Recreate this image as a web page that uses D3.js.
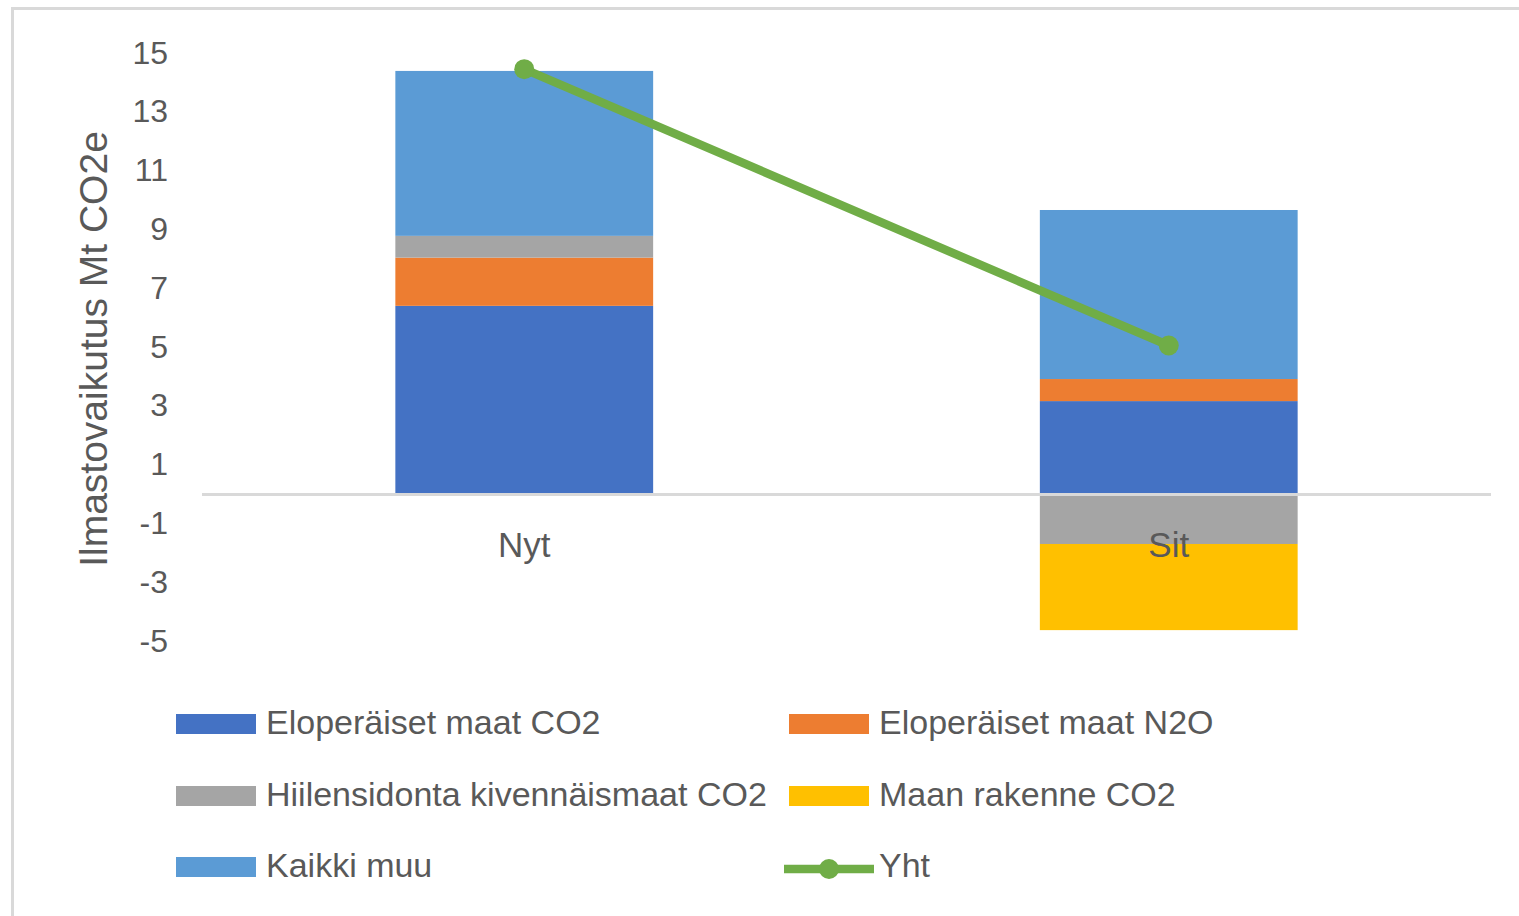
<!DOCTYPE html>
<html><head><meta charset="utf-8">
<script src="https://cdn.jsdelivr.net/npm/d3@7"></script>
<style>
body{margin:0;background:#fff}
svg{display:block}
text{font-family:"Liberation Sans",Arial,sans-serif;fill:#595959}
</style>
</head><body>
<svg id="c" width="1519" height="916"></svg>
<script>
// ---- data ----
const categories = ["Nyt", "Sit"];
const eloperaisetCO2 = [6.40, 3.16];
const eloperaisetN2O = [1.64, 0.75];
const hiilensidonta = [0.74, -1.70];
const maanRakenne = [0, -2.93];
const kaikkiMuu = [5.61, 5.75];
const yht = [14.45, 5.05];
const yTicks = [-5, -3, -1, 1, 3, 5, 7, 9, 11, 13, 15];
const seriesNames = ["Eloperäiset maat CO2", "Eloperäiset maat N2O", "Hiilensidonta kivennäismaat CO2", "Maan rakenne CO2", "Kaikki muu"];
const lineName = "Yht";
const yTitle = "Ilmastovaikutus Mt CO2e";
const colors = ["#4472C4", "#ED7D31", "#A5A5A5", "#FFC000", "#5B9BD5"];
const lineColor = "#70AD47";

const seriesValues = [eloperaisetCO2, eloperaisetN2O, hiilensidonta, maanRakenne, kaikkiMuu];
const table = categories.map((c, i) => {
  const row = {cat: c};
  seriesNames.forEach((s, k) => row[s] = seriesValues[k][i]);
  return row;
});

const svg = d3.select("#c");

// frame
svg.append("path").attr("d", "M12.5,916V8.5H1519")
  .attr("fill", "none").attr("stroke", "#d9d9d9").attr("stroke-width", 3);

const x = d3.scaleBand().domain(categories).range([202, 1491]).paddingInner(0.6).paddingOuter(0.3);
const y = d3.scaleLinear().domain([-5, 15]).range([641, 53]);

const stack = d3.stack().keys(seriesNames).offset(d3.stackOffsetDiverging);
const stacked = stack(table);

// bars
svg.append("g").selectAll("g").data(stacked).join("g")
  .attr("fill", (d, i) => colors[i])
  .selectAll("rect").data(d => d).join("rect")
  .attr("x", d => x(d.data.cat))
  .attr("width", x.bandwidth())
  .attr("y", d => y(Math.max(d[0], d[1])))
  .attr("height", d => Math.abs(y(d[0]) - y(d[1])));

// zero line
svg.append("line").attr("x1", 202).attr("x2", 1491)
  .attr("y1", y(0) + 0.5).attr("y2", y(0) + 0.5)
  .attr("stroke", "#d9d9d9").attr("stroke-width", 3);

// y axis labels
const yAxis = d3.axisLeft(y).tickValues(yTicks).tickSize(0).tickPadding(0).tickFormat(d => String(d));
const gy = svg.append("g").attr("transform", "translate(168,0)").call(yAxis);
gy.select(".domain").remove();
gy.selectAll("text").attr("font-size", 32).attr("font-family", null).attr("dy", null)
  .attr("y", 10).attr("fill", "#595959").style("font-family", '"Liberation Sans",Arial,sans-serif');

// line series
const lineGen = d3.line().x((d, i) => x(categories[i]) + x.bandwidth() / 2).y(d => y(d));
svg.append("path").datum(yht).attr("d", lineGen)
  .attr("fill", "none").attr("stroke", lineColor).attr("stroke-width", 8.5).attr("stroke-linecap", "round");
svg.append("g").selectAll("circle").data(yht).join("circle")
  .attr("cx", (d, i) => x(categories[i]) + x.bandwidth() / 2)
  .attr("cy", d => y(d)).attr("r", 10).attr("fill", lineColor);

// category labels
const xAxis = d3.axisBottom(x).tickSize(0).tickPadding(0);
const gx = svg.append("g").attr("transform", "translate(0,557)").call(xAxis);
gx.select(".domain").remove();
gx.selectAll("text").attr("font-size", 35).attr("dy", null).attr("y", 0)
  .attr("fill", "#595959").style("font-family", '"Liberation Sans",Arial,sans-serif');

// y title
svg.append("text").attr("transform", "translate(107,349) rotate(-90)")
  .attr("text-anchor", "middle").attr("font-size", 39).text(yTitle);

// legend
const legendItems = seriesNames.map((s, i) => ({name: s, color: colors[i], type: "rect"}))
  .concat([{name: lineName, color: lineColor, type: "line"}]);
const colX = [176, 789];
const rowBase = [734, 806, 877];
const lg = svg.append("g");
legendItems.forEach((it, i) => {
  const cx = colX[i % 2], by = rowBase[Math.floor(i / 2)];
  if (it.type === "rect") {
    lg.append("rect").attr("x", cx).attr("y", by - 20).attr("width", 80).attr("height", 20).attr("fill", it.color);
  } else {
    lg.append("line").attr("x1", cx - 5).attr("x2", cx + 85).attr("y1", by - 8).attr("y2", by - 8)
      .attr("stroke", it.color).attr("stroke-width", 8.5);
    lg.append("circle").attr("cx", cx + 40).attr("cy", by - 8).attr("r", 10).attr("fill", it.color);
  }
  lg.append("text").attr("x", cx + 90).attr("y", by).attr("font-size", 34).text(it.name);
});
</script>
</body></html>
